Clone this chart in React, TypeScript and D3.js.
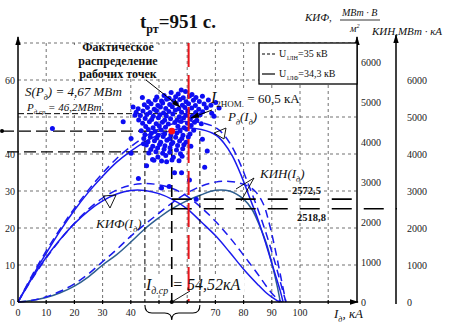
import React, { useEffect, useRef } from 'react';
import * as d3 from 'd3';

// P_д(I_д), МВт
const pSolidI = [0, 5, 10, 15, 20, 25, 30, 35, 40, 45, 50, 55, 60, 65, 70, 73, 76, 79, 82, 85, 88, 91, 93, 94];
const pSolid = [0, 6.8, 13.2, 19.3, 24.8, 29.7, 34, 37.8, 40.8, 43.3, 45.2, 46.5, 47, 46.6, 45.2, 43, 39.5, 34.5, 28.5, 22.5, 15.5, 8, 3, 0];
const pDashedI = [0, 5, 10, 15, 20, 25, 30, 35, 40, 45, 50, 55, 60, 65, 70, 73, 76, 79, 82, 85, 88, 91, 93, 95];
const pDashed = [0, 7.2, 13.8, 19.8, 25.3, 30.3, 34.8, 38.8, 42, 44.7, 46.8, 48.2, 48.8, 48.5, 47.2, 45.2, 41.8, 37, 31.2, 25.2, 18.5, 11, 5.5, 0];

// КИФ(I_д)
const kifSolidI = [0, 5, 10, 15, 20, 25, 30, 35, 40, 45, 50, 54.52, 60, 65, 70, 75, 80, 85, 88, 90, 92, 92.8];
const kifSolid = [0, 600, 1120, 1570, 1960, 2280, 2530, 2700, 2790, 2790, 2710, 2572.5, 2330, 2000, 1660, 1250, 820, 440, 230, 120, 30, 0];
const kifDashedI = [0, 5, 10, 15, 20, 25, 30, 35, 40, 45, 50, 55, 60, 65, 70, 75, 80, 85, 88, 90, 92, 93.5];
const kifDashed = [0, 580, 1100, 1560, 1970, 2320, 2600, 2800, 2920, 2960, 2930, 2830, 2640, 2360, 2020, 1620, 1170, 700, 400, 220, 80, 0];

// КИН(I_д)
const kinSolidI = [0, 5, 10, 15, 20, 25, 30, 35, 40, 45, 50, 54.52, 60, 65, 70, 75, 80, 83, 86, 88, 90, 92, 93];
const kinSolid = [0, 40, 120, 250, 430, 680, 1000, 1280, 1620, 1980, 2280, 2518.8, 2740, 2900, 3020, 3000, 2780, 2500, 2000, 1600, 1050, 400, 0];
const kinDashedI = [0, 5, 10, 15, 20, 25, 30, 35, 40, 45, 50, 55, 60, 65, 70, 75, 80, 84, 87, 89, 91, 93, 95];
const kinDashed = [0, 45, 140, 290, 490, 760, 1090, 1420, 1780, 2100, 2400, 2700, 2950, 3130, 3240, 3260, 3180, 3000, 2650, 2150, 1500, 750, 0];

// рабочие точки (I_д, P_д)
const workPoints: [number, number][] = [
  [12.2, 46.9], [37.3, 48.7], [40.8, 52.7], [41.5, 50.5], [40.1, 44.2], [40.1, 40.2], [42.7, 33.4],
  [44.5, 42.8], [45.6, 36.8], [47.7, 38.5], [52.7, 37.9], [55.5, 34.9], [58.0, 34.9], [60.8, 33.0],
  [50.9, 30.8], [53.6, 31.2], [63.2, 27.8], [66.2, 36.4], [69.5, 50.2], [71.3, 52.4], [65.4, 44.0],
  [67.1, 40.8], [44.1, 55.3],
  [54.3, 56.6], [56.8, 56.2], [59.4, 56.9], [61.7, 56.1], [57.9, 57.3],
  [49.2, 55.4], [51.8, 55.8], [53.6, 55.1], [55.9, 55.5], [58.6, 55.2], [60.8, 55.7], [63.1, 55.3], [65.4, 55.6],
  [46.3, 54.2], [48.7, 54.6], [50.9, 54.3], [52.7, 54.8], [55.2, 54.4], [57.4, 54.7], [59.6, 54.1], [62.2, 54.5], [64.3, 54.2], [67.5, 54.6], [70.1, 53.9],
  [44.8, 53.3], [47.2, 53.6], [49.6, 53.1], [51.3, 53.8], [53.8, 53.4], [56.1, 53.7], [58.3, 53.2], [60.5, 53.6], [62.9, 53.1], [66.0, 53.5], [68.4, 53.2],
  [42.6, 52.2], [45.9, 52.6], [48.3, 52.1], [50.5, 52.7], [52.4, 52.3], [54.7, 52.8], [57.0, 52.2], [59.2, 52.6], [61.6, 52.4], [64.1, 52.1], [66.8, 52.5],
  [41.9, 51.3], [44.3, 51.6], [46.8, 51.2], [49.1, 51.7], [51.6, 51.1], [53.5, 51.5], [55.8, 51.8], [58.0, 51.3], [60.2, 51.6], [63.0, 51.2], [65.5, 51.4], [68.7, 51.0],
  [43.4, 50.4], [45.7, 50.7], [48.0, 50.2], [50.3, 50.6], [52.6, 50.3], [54.9, 50.8], [57.2, 50.1], [59.5, 50.5], [61.8, 50.2], [64.6, 50.6],
  [42.8, 49.2], [45.1, 49.6], [47.4, 49.3], [49.8, 49.8], [52.0, 49.1], [54.1, 49.5], [56.4, 49.2], [58.7, 49.7], [61.1, 49.4], [63.4, 49.1],
  [44.2, 48.3], [46.6, 48.7], [49.0, 48.2], [51.2, 48.6], [53.3, 48.1], [55.6, 48.5], [57.8, 48.8], [60.1, 48.3], [62.6, 48.6], [65.0, 48.2],
  [45.3, 47.4], [47.9, 47.1], [50.1, 47.6], [52.3, 47.2], [56.7, 47.5], [58.9, 47.1], [61.4, 47.7],
  [43.7, 46.3], [46.2, 46.6], [48.6, 46.1], [50.8, 46.5], [57.5, 46.2], [59.8, 46.7], [62.3, 46.4],
  [45.0, 45.3], [47.3, 45.6], [49.7, 45.1], [52.0, 45.5], [54.2, 45.2], [56.3, 45.7], [58.5, 45.1], [61.0, 45.4],
  [44.6, 44.2], [46.9, 44.6], [49.2, 44.3], [51.5, 44.7], [53.7, 44.1], [55.9, 44.5], [58.1, 44.2], [60.4, 44.6],
  [46.1, 43.3], [48.4, 43.6], [50.6, 43.2], [52.8, 43.7], [54.9, 43.1], [57.3, 43.5], [59.6, 43.2],
  [45.5, 42.4], [47.8, 42.1], [50.2, 42.6], [52.1, 42.2], [54.4, 42.7], [56.6, 42.3], [58.8, 42.5], [61.3, 42.1],
  [47.1, 41.2], [49.5, 41.6], [51.8, 41.3], [53.9, 41.7], [56.2, 41.1], [58.4, 41.4],
  [46.4, 40.3], [48.9, 40.6], [51.3, 40.2], [53.8, 40.5], [57.6, 40.1],
  [49.6, 39.2], [52.4, 39.6], [55.1, 39.1], [58.2, 39.4],
  [48.2, 38.3], [50.9, 38.1], [54.6, 38.4], [57.1, 38.2],
];

const iMean = 54.52;
const pMean = 46.2;
const iBand = [45.0, 64.5];
const pBand = [50.9, 40.6];
const iNom = 60.5;
const kifAtMean = 2572.5;
const kinAtMean = 2518.8;

const xTickLabels = [0, 10, 20, 30, 40, 70, 80, 90, 100];
const xGrid = [10, 20, 30, 40, 50, 60, 70, 80, 90, 100, 110];
const yTickLabels = [0, 10, 20, 30, 40, 60];
const yGrid = [10, 20, 30, 40, 50, 60];
const rightTicks = [0, 1000, 2000, 3000, 4000, 5000, 6000];

const FONT = '"Liberation Serif", "Times New Roman", serif';
const BLUE = '#1a1aee';
const TEAL = '#2f5f8f';

type Part = { t: string; sub?: boolean; sup?: boolean; size?: number; it?: boolean };

const App: React.FC = () => {
  const ref = useRef<SVGSVGElement | null>(null);

  useEffect(() => {
    if (!ref.current) return;
    document.body.style.margin = '0';
    const W = 451, H = 322;
    const svg = d3.select(ref.current);
    svg.selectAll('*').remove();
    svg.attr('width', W).attr('height', H).style('display', 'block').style('background', '#fff');

    const x = d3.scaleLinear().domain([0, 120]).range([18, 356.4]);
    const yL = d3.scaleLinear().domain([0, 70]).range([302, 43]);
    const yK1 = d3.scaleLinear().domain([0, 6000]).range([302, 62]);
    const yK2 = d3.scaleLinear().domain([0, 7000]).range([302, 43]);

    const defs = svg.append('defs');
    defs.append('marker').attr('id', 'arr').attr('viewBox', '0 0 10 6')
      .attr('refX', 9).attr('refY', 3).attr('markerWidth', 9).attr('markerHeight', 6)
      .attr('markerUnits', 'userSpaceOnUse').attr('orient', 'auto')
      .append('path').attr('d', 'M0,0 L10,3 L0,6 Z').attr('fill', '#000');

    const line = (x1: number, y1: number, x2: number, y2: number, w = 1, dash?: string, color = '#000') => {
      const l = svg.append('line').attr('x1', x1).attr('y1', y1).attr('x2', x2).attr('y2', y2)
        .attr('stroke', color).attr('stroke-width', w);
      if (dash) l.attr('stroke-dasharray', dash);
      return l;
    };

    const rich = (px: number, py: number, parts: Part[], size: number,
      o: { bold?: boolean; italic?: boolean; anchor?: string } = {}) => {
      const t = svg.append('text').attr('x', px).attr('y', py).attr('font-size', size)
        .attr('font-family', FONT).attr('fill', '#111');
      if (o.bold) t.attr('font-weight', 'bold');
      if (o.italic) t.attr('font-style', 'italic');
      if (o.anchor) t.attr('text-anchor', o.anchor);
      let cur = 0;
      parts.forEach(p => {
        const ps = p.size ?? (p.sub || p.sup ? size * 0.62 : size);
        const off = p.sub ? size * 0.28 : p.sup ? -size * 0.42 : 0;
        const s = t.append('tspan').text(p.t).attr('dy', off - cur).attr('font-size', ps);
        if (p.it === false) s.attr('font-style', 'normal');
        if (p.it === true) s.attr('font-style', 'italic');
        cur = off;
      });
      return t;
    };

    const whiteBox = (bx: number, by: number, bw: number, bh: number) =>
      svg.append('rect').attr('x', bx).attr('y', by).attr('width', bw).attr('height', bh).attr('fill', '#fff');

    // grid
    xGrid.forEach(v => line(x(v), 43, x(v), 302, 0.7, '3,3', '#333'));
    yGrid.forEach(v => line(18, yL(v), 356.4, yL(v), 0.7, '3,3', '#333'));
    line(18, 43, 356.4, 43, 0.7, '3,3', '#333');

    // label backgrounds
    whiteBox(56, 45, 106, 34);
    whiteBox(23, 85, 98, 14);
    whiteBox(25, 101, 76, 12);
    whiteBox(207, 89, 92, 17);
    whiteBox(225, 108, 38, 17);
    whiteBox(94, 216, 50, 15);
    whiteBox(258, 165, 48, 16);
    whiteBox(142, 274, 102, 20);

    // curves
    const drawCurve = (xs: number[], ys: number[], ys2: (v: number) => number, color: string, dash?: string) => {
      const gen = d3.line<number>().x((_, i) => x(xs[i])).y(d => ys2(d)).curve(d3.curveCatmullRom.alpha(0.5));
      const p = svg.append('path').attr('d', gen(ys)!).attr('fill', 'none')
        .attr('stroke', color).attr('stroke-width', 1.5);
      if (dash) p.attr('stroke-dasharray', dash);
    };
    drawCurve(kinSolidI, kinSolid, yK2, TEAL);
    drawCurve(kinDashedI, kinDashed, yK2, BLUE, '8,5');
    drawCurve(kifSolidI, kifSolid, yK1, BLUE);
    drawCurve(kifDashedI, kifDashed, yK1, BLUE, '8,5');
    drawCurve(pSolidI, pSolid, yL, BLUE);
    drawCurve(pDashedI, pDashed, yL, BLUE, '8,5');

    // mean / deviation lines
    line(2, yL(pMean), x(iMean), yL(pMean), 1.3, '12,5');
    svg.append('circle').attr('cx', 2).attr('cy', yL(pMean)).attr('r', 2).attr('fill', '#000');
    line(18, yL(pBand[0]), 200, yL(pBand[0]), 1, '6,3');
    line(7, yL(pBand[1]), 150, yL(pBand[1]), 1.3, '12,5');
    line(x(iMean), yL(pMean), x(iMean), 302, 1.6, '12,6');
    iBand.forEach(v => line(x(v), yL(pMean), x(v), 302, 1, '5,3'));
    line(x(iMean), yK1(kifAtMean), 357, yK1(kifAtMean), 1.6, '20,12');
    line(x(iMean), yK2(kinAtMean), 397, yK2(kinAtMean), 1.6, '20,12');

    // scatter
    svg.append('g').selectAll('circle').data(workPoints).enter().append('circle')
      .attr('cx', d => x(d[0])).attr('cy', d => yL(d[1])).attr('r', 2.5).attr('fill', '#0d0df2');

    // I2nom line
    line(x(iNom), 43, x(iNom), 302, 2, '24,8', '#e8141a');
    svg.append('circle').attr('cx', x(iMean)).attr('cy', yL(pMean)).attr('r', 3.4).attr('fill', '#ff1010');

    // axes
    line(18, 302, 18, 37, 1.5).attr('marker-end', 'url(#arr)');
    line(18, 302, 358, 302, 1.5).attr('marker-end', 'url(#arr)');
    line(357, 302, 357, 37, 1.5).attr('marker-end', 'url(#arr)');
    line(396, 304, 396, 35, 1.5).attr('marker-end', 'url(#arr)');
    xGrid.forEach(v => line(x(v), 300, x(v), 304, 1.2));

    xTickLabels.forEach(v => svg.append('text').attr('x', x(v)).attr('y', 316).attr('text-anchor', 'middle')
      .attr('font-size', 10).attr('font-family', FONT).attr('fill', '#222').text(v));
    yTickLabels.forEach(v => svg.append('text').attr('x', 15).attr('y', yL(v) + 4).attr('text-anchor', 'end')
      .attr('font-size', 10).attr('font-family', FONT).attr('fill', '#222').text(v));
    rightTicks.forEach(v => svg.append('text').attr('x', 361).attr('y', yK1(v) + 3.5)
      .attr('font-size', 10).attr('font-family', FONT).attr('fill', '#222').text(v));
    rightTicks.forEach(v => svg.append('text').attr('x', 407).attr('y', yK2(v) + 3.5)
      .attr('font-size', 10).attr('font-family', FONT).attr('fill', '#222').text(v));

    // brace under the axis
    const bx1 = x(iBand[0]), bx2 = x(iBand[1]), bm = x(iMean);
    svg.append('path')
      .attr('d', `M${bx1},305 Q${bx1},313 ${bx1 + 7},313 L${bm - 7},313 Q${bm},313 ${bm},320 Q${bm},313 ${bm + 7},313 L${bx2 - 7},313 Q${bx2},313 ${bx2},305`)
      .attr('fill', 'none').attr('stroke', '#000').attr('stroke-width', 1.1);
    svg.append('circle').attr('cx', bm).attr('cy', 302).attr('r', 2).attr('fill', '#000');

    // legend
    svg.append('rect').attr('x', 259).attr('y', 43).attr('width', 98).attr('height', 41)
      .attr('fill', '#fff').attr('stroke', '#000').attr('stroke-width', 1.3);
    line(262, 54, 275, 54, 1, '3,2');
    line(262, 74, 275, 74, 1.2);
    rich(279, 57, [{ t: 'U' }, { t: '1ЛН', sub: true }, { t: '=35 кВ' }], 10);
    rich(279, 77, [{ t: 'U' }, { t: '1ЛФ', sub: true }, { t: '=34,3 кВ' }], 10);

    // titles and annotations
    rich(140, 28, [{ t: 't' }, { t: 'рт', sub: true, size: 12 }, { t: '=951 с.' }], 19, { bold: true });
    ['Фактическое', 'распределение', 'рабочих точек'].forEach((s, i) =>
      rich(118, 51 + i * 13.5, [{ t: s }], 12, { bold: true, anchor: 'middle' }));
    line(146, 80, 180, 107, 1).attr('marker-end', 'url(#arr)');

    rich(25, 96, [{ t: 'S(P' }, { t: 'д', sub: true }, { t: ') = 4,67 МВт' }], 13, { italic: true });
    rich(27, 111, [{ t: 'P' }, { t: 'д.ср', sub: true }, { t: ' = 46,2МВт' }], 11, { italic: true });

    rich(211, 103, [{ t: 'I', it: true, size: 16 }, { t: '2НОМ.', sub: true, size: 9, it: false }, { t: ' = 60,5 кА', size: 13, it: false }], 14);
    line(212, 110, 191, 118, 1).attr('marker-end', 'url(#arr)');

    rich(228, 121, [{ t: 'P' }, { t: 'д', sub: true }, { t: '(I' }, { t: 'д', sub: true }, { t: ')' }], 13, { italic: true });
    svg.append('path').attr('d', 'M214,133 L226,128 L224,139 Z').attr('fill', 'none').attr('stroke', '#000').attr('stroke-width', 0.9);

    rich(96, 228, [{ t: 'КИФ(I' }, { t: 'д', sub: true }, { t: ')' }], 13, { italic: true });
    svg.append('path').attr('d', 'M103,196 L116,195 L110,208 Z').attr('fill', 'none').attr('stroke', '#000').attr('stroke-width', 0.9);

    rich(260, 178, [{ t: 'КИН(I' }, { t: 'д', sub: true }, { t: ')' }], 13, { italic: true });
    svg.append('path').attr('d', 'M236,189 L254,178 L241,201').attr('fill', 'none').attr('stroke', '#000').attr('stroke-width', 0.9);

    rich(292, 194, [{ t: '2572,5' }], 10.5, { bold: true });
    rich(297, 221, [{ t: '2518,8' }], 10.5, { bold: true });

    rich(146, 290, [{ t: 'I' }, { t: 'д.ср', sub: true }, { t: ' = 54,52кА' }], 16, { italic: true });
    line(bm, 302, 190, 291, 0.9);

    rich(334, 318, [{ t: 'I' }, { t: 'д', sub: true }, { t: ', кА' }], 13, { italic: true });

    // right axes header
    rich(305, 21, [{ t: 'КИФ,' }], 11, { italic: true });
    rich(342, 16, [{ t: 'МВт · В' }], 10, { italic: true });
    line(340, 20, 380, 20, 0.8);
    rich(350, 32, [{ t: 'м' }, { t: '2', sup: true }], 10, { italic: true });
    rich(372, 35, [{ t: 'КИН,МВт · кА' }], 11, { italic: true });
  }, []);

  return <svg ref={ref} />;
};

export default App;
